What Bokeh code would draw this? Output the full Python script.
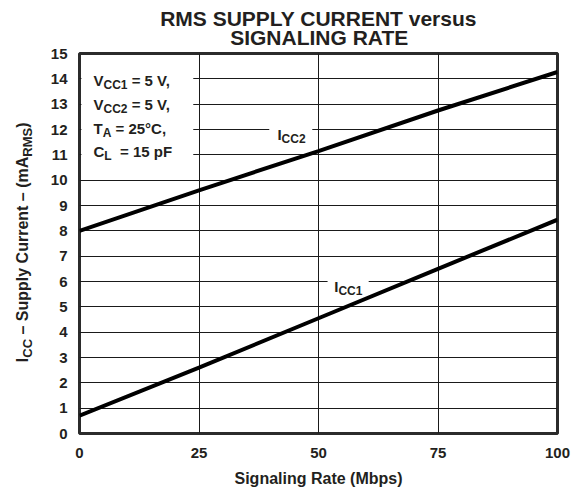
import math
from bokeh.plotting import figure
from bokeh.models import Range1d, FixedTicker, Label, BoxAnnotation, Title
from bokeh.layouts import row
from bokeh.embed import file_html
from bokeh.resources import INLINE

# ---- data ----
rate = [0, 25, 50, 75, 100]                     # Signaling rate (Mbps)
icc2 = [8.0, 9.6, 11.15, 12.75, 14.27]          # I_CC2 (mA RMS)
icc1 = [0.7, 2.6, 4.55, 6.5, 8.44]              # I_CC1 (mA RMS)
x_ticks = [0, 25, 50, 75, 100]
y_ticks = list(range(0, 16))
title_lines = ["RMS SUPPLY CURRENT versus", "SIGNALING RATE"]

FONT = "Liberation Sans"
INK = "#231f20"
NB = "\u00a0"

# Arial/Liberation Sans Bold advance widths (1/1000 em)
W = {' ': 278, NB: 278, ',': 278, '-': 333, '\u2013': 556, '.': 278, '=': 584, '\u00b0': 400,
     '(': 333, ')': 333, 'A': 722, 'C': 722, 'E': 667, 'F': 611, 'G': 778, 'I': 278, 'L': 611,
     'M': 833, 'N': 722, 'P': 667, 'R': 722, 'S': 667, 'T': 611, 'U': 722, 'V': 667, 'Y': 667,
     'a': 556, 'b': 611, 'c': 556, 'e': 556, 'g': 611, 'i': 278, 'l': 278, 'm': 889, 'n': 611,
     'p': 611, 'r': 389, 's': 556, 't': 333, 'u': 611, 'y': 556, 'v': 556}
for d in "0123456789":
    W[d] = 556


def tw(s, size):
    return sum(W.get(c, 556) for c in s) * size / 1000.0


def rich(p, x, y, parts, size, sub_size, drop, angle=0.0, x_off=0.0, y_off=0.0, align="left"):
    total = sum(tw(t, sub_size if s else size) for t, s in parts)
    cum = 0.0 if align == "left" else -total / 2.0
    for t, s in parts:
        fs = sub_size if s else size
        if angle == 0:
            xo, yo = x_off + cum, y_off - (drop if s else 0)
        else:
            xo, yo = x_off + (drop if s else 0), y_off + cum
        p.add_layout(Label(x=x, y=y, x_offset=xo, y_offset=yo, text=t.replace(" ", NB), angle=angle,
                           text_font=FONT, text_font_size=f"{fs}px", text_font_style="bold",
                           text_align="left", text_baseline="alphabetic", text_color=INK))
        cum += tw(t, fs)


H = 489
LW = 45
TS = 21

# ---- narrow panel holding the rotated y-axis title ----
yl = figure(width=LW, height=H, x_range=Range1d(0, LW), y_range=Range1d(0, H),
            output_backend="svg", toolbar_location=None, title=None,
            x_axis_location=None, y_axis_location=None, min_border=0)
yl.outline_line_color = None
yl.background_fill_color = "white"
yl.border_fill_color = "white"
yl.xgrid.visible = False
yl.ygrid.visible = False
rich(yl, 22, H - 243, [("I", 0), ("CC", 1), (" \u2013 Supply Current \u2013 (mA", 0), ("RMS", 1), (")", 0)],
     16, 13, 4.5, angle=math.pi / 2, align="center")

# ---- main chart ----
# centre the second title line inside the (left-aligned) two-line title block
pad = round((tw(title_lines[0], TS) - tw(title_lines[1], TS)) / 2 / tw(NB, TS))
title_text = title_lines[0] + "\n" + NB * pad + title_lines[1]

p = figure(width=530, height=H, x_range=Range1d(0, 100), y_range=Range1d(0, 15),
           output_backend="svg", toolbar_location=None,
           min_border_left=79 - LW, min_border_right=18, min_border_top=53, min_border_bottom=H - 433)
p.title = Title(text=title_text, align="center", text_font=FONT,
                text_font_size=f"{TS}px", text_font_style="bold", text_color=INK,
                text_line_height=0.82, standoff=9)
p.background_fill_color = "white"
p.border_fill_color = "white"
p.outline_line_color = "#2b2b2b"
p.outline_line_width = 3

for ax, ticks in ((p.xaxis[0], x_ticks), (p.yaxis[0], y_ticks)):
    ax.ticker = FixedTicker(ticks=ticks)
    ax.axis_line_color = None
    ax.major_tick_line_color = None
    ax.minor_tick_line_color = None
    ax.major_label_text_font = FONT
    ax.major_label_text_font_style = "bold"
    ax.major_label_text_font_size = "15px"
    ax.major_label_text_color = INK
p.xaxis.major_label_standoff = 8
p.yaxis.major_label_standoff = 6
p.xaxis.axis_label = "Signaling Rate (Mbps)"
p.xaxis.axis_label_text_font = FONT
p.xaxis.axis_label_text_font_style = "bold"
p.xaxis.axis_label_text_font_size = "16px"
p.xaxis.axis_label_text_color = INK
p.xaxis.axis_label_standoff = 9

p.xgrid.ticker = FixedTicker(ticks=x_ticks)
p.ygrid.ticker = FixedTicker(ticks=y_ticks)
for g in (p.xgrid[0], p.ygrid[0]):
    g.grid_line_color = "#1a1a1a"
    g.grid_line_width = 1
    g.grid_line_alpha = 1.0

# white areas that hide the grid behind the texts
for l, r, b, t in ((0.4, 23.8, 10.55, 14.93), (39.7, 48.7, 11.7, 12.3), (51.9, 60.5, 5.7, 6.3)):
    p.add_layout(BoxAnnotation(left=l, right=r, bottom=b, top=t, fill_color="white",
                               fill_alpha=1.0, line_color=None, level="underlay"))

p.line(rate, icc2, line_width=4, line_color="black")
p.line(rate, icc1, line_width=4, line_color="black")

# condition box
cond = [
    (13.95, [("V", 0), ("CC1", 1), (" = 5 V,", 0)]),
    (13.0, [("V", 0), ("CC2", 1), (" = 5 V,", 0)]),
    (12.05, [("T", 0), ("A", 1), (" = 25\u00b0C,", 0)]),
    (11.15, [("C", 0), ("L", 1), ("  = 15 pF", 0)]),
]
for yy, parts in cond:
    rich(p, 0, yy, parts, 15, 12, 4.5, x_off=14)

# curve labels
rich(p, 41.4, 12, [("I", 0), ("CC2", 1)], 15, 12, 4.5, y_off=-5)
rich(p, 53.3, 6, [("I", 0), ("CC1", 1)], 15, 12, 4.5, y_off=-5)

open("out.html", "w").write(file_html(row(yl, p), INLINE))
